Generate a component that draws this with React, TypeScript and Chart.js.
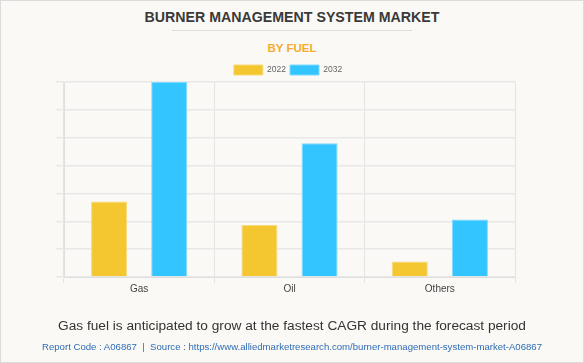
import React, { useEffect, useRef } from "react";
import { Chart, registerables } from "chart.js";

Chart.register(...registerables);

const categories = ["Gas", "Oil", "Others"];
const seriesLabels = ["2022", "2032"];
const values2022 = [2.71, 1.87, 0.56];
const values2032 = [7.0, 4.8, 2.06];

const FONT = "Arial, 'Liberation Sans', Helvetica, sans-serif";

const legendTrim = {
  id: "legendTrim",
  afterInit(chart: any) {
    const lg: any = chart.legend;
    if (lg && !lg.__trimmed) {
      const f = lg.fit.bind(lg);
      lg.fit = () => {
        f();
        lg.height -= 3;
      };
      lg.__trimmed = true;
    }
  },
  afterLayout(chart: any) {
    const lg: any = chart.legend;
    if (lg) {
      lg.left += 2.5;
      lg.right += 2.5;
    }
  },
};

export default function App() {
  const ref = useRef<HTMLCanvasElement | null>(null);

  useEffect(() => {
    if (!ref.current) return;
    const chart = new Chart(ref.current, {
      type: "bar",
      data: {
        labels: categories,
        datasets: [
          {
            label: seriesLabels[0],
            data: values2022,
            backgroundColor: "#f4c630",
            borderColor: "#f8da7a",
            borderWidth: 1,
            categoryPercentage: 0.8,
            barPercentage: 0.6,
          },
          {
            label: seriesLabels[1],
            data: values2032,
            backgroundColor: "#33c5ff",
            borderColor: "#7fdaff",
            borderWidth: 1,
            categoryPercentage: 0.8,
            barPercentage: 0.6,
          },
        ],
      },
      options: {
        responsive: false,
        animation: false,
        devicePixelRatio: 1,
        layout: { padding: { top: 61, left: 56, right: 69, bottom: 68 } },
        plugins: {
          legend: {
            position: "top",
            labels: {
              boxWidth: 29,
              boxHeight: 10,
              padding: 4,
              color: "#666",
              font: { family: FONT, size: 8.5 },
            },
          },
          title: { display: false },
          tooltip: { enabled: false },
        },
        scales: {
          x: {
            grid: { color: "#e4e4e4", tickLength: 6, offset: true },
            border: { color: "#dedede" },
            ticks: { color: "#444", padding: 0, font: { family: FONT, size: 10 } },
          },
          y: {
            min: 0,
            max: 7,
            ticks: { display: false, stepSize: 1 },
            grid: { color: "#e8e8e8", tickLength: 8, lineWidth: 1.5 },
            border: { color: "#e0e0e0" },
          },
        },
      },
      plugins: [legendTrim as any],
    });
    return () => chart.destroy();
  }, []);

  return (
    <div
      style={{
        position: "fixed",
        left: 0,
        top: 0,
        width: 584,
        height: 363,
        background: "#faf9f5",
        boxShadow: "inset 0 0 0 1px #dcdcdc",
        fontFamily: FONT,
        overflow: "hidden",
      }}
    >
      <div
        style={{
          position: "absolute",
          left: 0,
          top: 7,
          width: 584,
          textAlign: "center",
          fontSize: 14.2,
          lineHeight: "20px",
          fontWeight: "bold",
          color: "#3a3a3a",
        }}
      >
        BURNER MANAGEMENT SYSTEM MARKET
      </div>
      <div
        style={{
          position: "absolute",
          left: 172,
          top: 30,
          width: 240,
          height: 1,
          background: "#dddddd",
        }}
      />
      <div
        style={{
          position: "absolute",
          left: 0,
          top: 40,
          width: 584,
          textAlign: "center",
          fontSize: 11.5,
          lineHeight: "16px",
          fontWeight: "bold",
          color: "#f6ab2f",
        }}
      >
        BY FUEL
      </div>
      <canvas
        ref={ref}
        width={584}
        height={363}
        style={{ position: "absolute", left: 0, top: 0, width: 584, height: 363 }}
      />
      <div
        style={{
          position: "absolute",
          left: 0,
          top: 316.5,
          width: 584,
          textAlign: "center",
          fontSize: 13.7,
          lineHeight: "18px",
          color: "#333",
        }}
      >
        Gas fuel is anticipated to grow at the fastest CAGR during the forecast period
      </div>
      <div
        style={{
          position: "absolute",
          left: 0,
          top: 339.5,
          width: 584,
          textAlign: "center",
          fontSize: 9.6,
          lineHeight: "14px",
          color: "#2f6db5",
          whiteSpace: "pre",
        }}
      >
        {"Report Code : A06867  |  Source : https://www.alliedmarketresearch.com/burner-management-system-market-A06867"}
      </div>
    </div>
  );
}
